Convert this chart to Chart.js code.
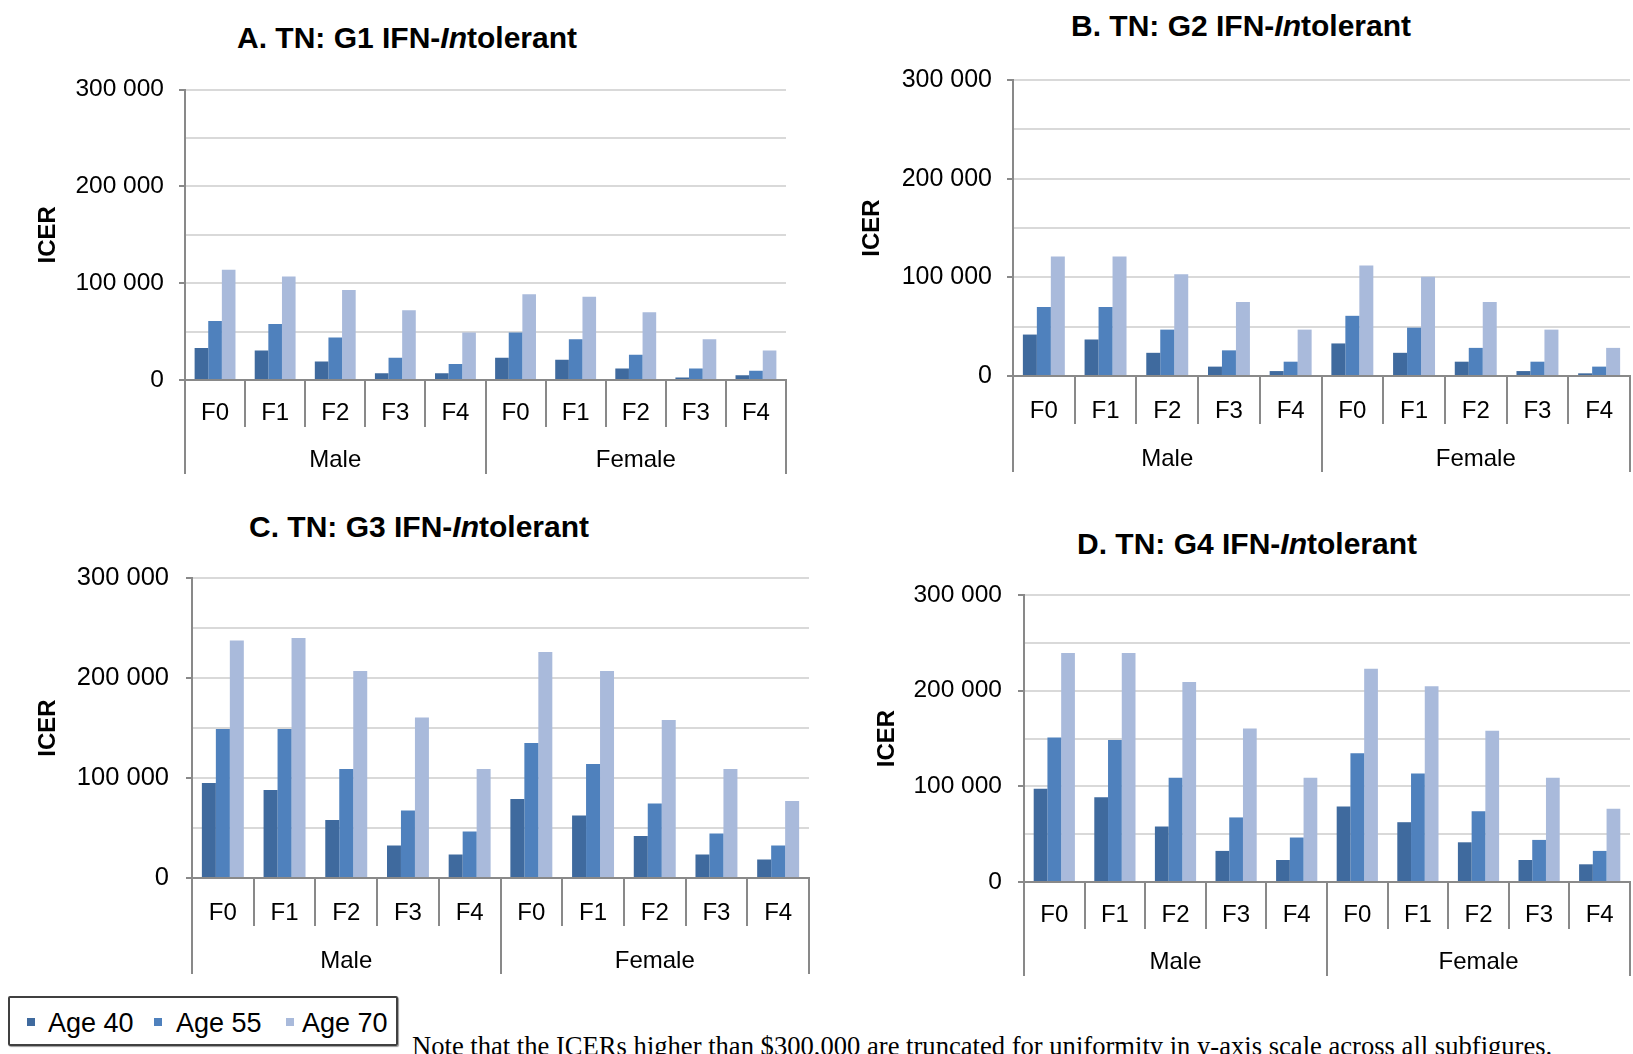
<!DOCTYPE html>
<html>
<head>
<meta charset="utf-8">
<script src="https://cdn.jsdelivr.net/npm/chart.js@4.4.1/dist/chart.umd.min.js"></script>
<style>
  body { margin: 0; width: 1633px; height: 1054px; background: #fff; overflow: hidden; position: relative; font-family: "Liberation Sans", Arial, sans-serif; }
  canvas { position: absolute; }
  .title { position: absolute; transform: translate(-50%, -50%); white-space: nowrap; font-weight: bold; font-size: 30px; line-height: 1; color: #000; }
  #legend { position: absolute; left: 8px; top: 996px; width: 386px; height: 46px; border: 2px solid #404040; border-radius: 2px; box-shadow: 1px 1px 1px #999; }
  .lg-box { position: absolute; top: 20px; width: 8px; height: 8px; }
  .lg-text { position: absolute; top: 12px; font-size: 27px; line-height: 1; color: #000; }
  #note { position: absolute; left: 412px; top: 1033px; font-family: "Liberation Serif", "Times New Roman", serif; font-size: 26.6px; line-height: 1; white-space: nowrap; color: #000; }
</style>
</head>
<body>

<div class="title" style="left:407px; top:38px;">A. TN: G1 IFN-<i>In</i>tolerant</div>
<div class="title" style="left:1241px; top:26px;">B. TN: G2 IFN-<i>In</i>tolerant</div>
<div class="title" style="left:419px; top:527px;">C. TN: G3 IFN-<i>In</i>tolerant</div>
<div class="title" style="left:1247px; top:544px;">D. TN: G4 IFN-<i>In</i>tolerant</div>

<canvas id="chartA" width="800" height="420" style="left:0px; top:60px;"></canvas>
<canvas id="chartB" width="813" height="430" style="left:820px; top:50px;"></canvas>
<canvas id="chartC" width="820" height="440" style="left:0px; top:540px;"></canvas>
<canvas id="chartD" width="793" height="424" style="left:840px; top:560px;"></canvas>

<div id="legend">
  <div class="lg-box" style="left:17px; background:#3F6A9E;"></div>
  <div class="lg-text" style="left:38px;">Age 40</div>
  <div class="lg-box" style="left:144px; background:#4F81BD;"></div>
  <div class="lg-text" style="left:166px;">Age 55</div>
  <div class="lg-box" style="left:276px; background:#A9BADB;"></div>
  <div class="lg-text" style="left:292px;">Age 70</div>
</div>

<div id="note">Note that the ICERs higher than $300,000 are truncated for uniformity in y-axis scale across all subfigures.</div>

<script>
// categories
const stageLabels = ['F0', 'F1', 'F2', 'F3', 'F4', 'F0', 'F1', 'F2', 'F3', 'F4'];
const sexGroups = ['Male', 'Female'];
const ageLabels = ['Age 40', 'Age 55', 'Age 70'];
const ageColors = ['#3F6A9E', '#4F81BD', '#A9BADB'];

// y axis
const yMax = 300000;
const yStep = 50000;       // gridlines
const yLabelStep = 100000; // labelled ticks

// A. G1 (male F0..F4, female F0..F4)
const g1Age40 = [33000, 30500, 19000, 7000, 7000, 23000, 21000, 12000, 2500, 5000];
const g1Age55 = [61000, 58000, 44000, 23000, 16500, 49000, 42000, 26000, 12000, 9500];
const g1Age70 = [114000, 107000, 93000, 72000, 49000, 88500, 86000, 70000, 42000, 30500];

// B. G2
const g2Age40 = [42000, 37000, 23500, 9500, 5000, 33000, 23500, 14500, 5000, 2700];
const g2Age55 = [70000, 70000, 47000, 26000, 14500, 61000, 49000, 28500, 14500, 9500];
const g2Age70 = [121000, 121000, 103000, 75000, 47000, 112000, 100500, 75000, 47000, 28500];

// C. G3
const g3Age40 = [95000, 88000, 58000, 32500, 23500, 79000, 62500, 42000, 23500, 18500];
const g3Age55 = [149000, 149000, 109000, 67500, 46500, 135000, 114000, 74500, 44500, 32500];
const g3Age70 = [237500, 240000, 207000, 160500, 109000, 226000, 207000, 158000, 109000, 77000];

// D. G4
const g4Age40 = [97500, 88500, 58000, 32500, 23000, 79000, 62500, 41500, 23000, 18500];
const g4Age55 = [151000, 148500, 109000, 67500, 46500, 134500, 113500, 74000, 44000, 32500];
const g4Age70 = [239500, 239500, 209000, 160500, 109000, 223000, 204500, 158000, 109000, 76500];

const AXIS_GRAY = '#898989';
const GRID_GRAY = '#d9d9d9';

function fmt(v) {
    return String(v).replace(/\B(?=(\d{3})+(?!\d))/g, ' ');
}

// layout: yWidth = width of y axis box, titlePad puts "ICER" at the right x,
// h1/tl1 = F-row height and divider length, tl2 = Male/Female divider length
function makeChart(id, series, layout) {
    const ctx = document.getElementById(id).getContext('2d');
    return new Chart(ctx, {
        type: 'bar',
        data: {
            labels: stageLabels,
            datasets: series.map((d, i) => ({
                label: ageLabels[i],
                data: d,
                backgroundColor: ageColors[i],
                borderWidth: 0,
                categoryPercentage: 0.68,
                barPercentage: 1.0
            }))
        },
        options: {
            responsive: false,
            animation: false,
            devicePixelRatio: 1,
            layout: {
                padding: { top: layout.top, right: layout.right, bottom: layout.bottom, left: 0 }
            },
            plugins: {
                legend: { display: false },
                title: { display: false },
                tooltip: { enabled: false }
            },
            scales: {
                y: {
                    min: 0,
                    max: yMax,
                    afterFit: (scale) => { scale.width = layout.yWidth; },
                    ticks: {
                        stepSize: yStep,
                        padding: layout.tickPad,
                        color: '#000',
                        font: { family: 'Liberation Sans', size: layout.tickFont },
                        callback: (v) => (v % yLabelStep === 0 ? fmt(v) : '')
                    },
                    grid: {
                        color: (c) => (c.tick && c.tick.value === 0 ? 'rgba(0,0,0,0)' : GRID_GRAY),
                        lineWidth: 2,
                        tickLength: 6,
                        tickColor: (c) => (c.tick && c.tick.value % yLabelStep === 0 ? AXIS_GRAY : 'rgba(0,0,0,0)')
                    },
                    border: { display: true, color: AXIS_GRAY, width: 2 },
                    title: {
                        display: true,
                        text: 'ICER',
                        color: '#000',
                        font: { family: 'Liberation Sans', size: 24, weight: 'bold' },
                        padding: { top: layout.titlePad, bottom: 0 }
                    }
                },
                x: {
                    offset: true,
                    afterFit: (scale) => { scale.height = layout.h1; },
                    ticks: {
                        autoSkip: false,
                        maxRotation: 0,
                        padding: layout.xPad,
                        color: '#000',
                        font: { family: 'Liberation Sans', size: 24 }
                    },
                    grid: {
                        offset: true,
                        drawOnChartArea: false,
                        drawTicks: true,
                        tickLength: layout.tl1,
                        color: AXIS_GRAY,
                        lineWidth: 2
                    },
                    border: { display: true, color: AXIS_GRAY, width: 2 }
                },
                x2: {
                    type: 'category',
                    position: 'bottom',
                    labels: sexGroups,
                    offset: true,
                    afterFit: (scale) => { scale.height = layout.tl2; },
                    ticks: {
                        autoSkip: false,
                        maxRotation: 0,
                        padding: layout.xPad,
                        color: '#000',
                        font: { family: 'Liberation Sans', size: 24 }
                    },
                    grid: {
                        offset: true,
                        drawOnChartArea: false,
                        drawTicks: true,
                        tickLength: layout.tl2,
                        color: AXIS_GRAY,
                        lineWidth: 2
                    },
                    border: { display: false }
                }
            }
        }
    });
}

const chartA = makeChart('chartA', [g1Age40, g1Age55, g1Age70],
    { top: 28.5, right: 14, bottom: 6, yWidth: 185, titlePad: 34, tickPad: 15, tickFont: 24.5, h1: 46, tl1: 47, tl2: 48, xPad: -28 });
const chartB = makeChart('chartB', [g2Age40, g2Age55, g2Age70],
    { top: 26, right: 3, bottom: 8, yWidth: 193, titlePad: 38, tickPad: 15, tickFont: 25, h1: 48, tl1: 48, tl2: 48, xPad: -27.5 });
const chartC = makeChart('chartC', [g3Age40, g3Age55, g3Age70],
    { top: 38, right: 11, bottom: 6, yWidth: 192, titlePad: 34, tickPad: 17, tickFont: 25.5, h1: 48, tl1: 48, tl2: 48, xPad: -27.5 });
const chartD = makeChart('chartD', [g4Age40, g4Age55, g4Age70],
    { top: 35, right: 3, bottom: 8, yWidth: 184, titlePad: 33, tickPad: 16, tickFont: 24.5, h1: 46, tl1: 47, tl2: 48, xPad: -28 });
</script>
</body>
</html>
